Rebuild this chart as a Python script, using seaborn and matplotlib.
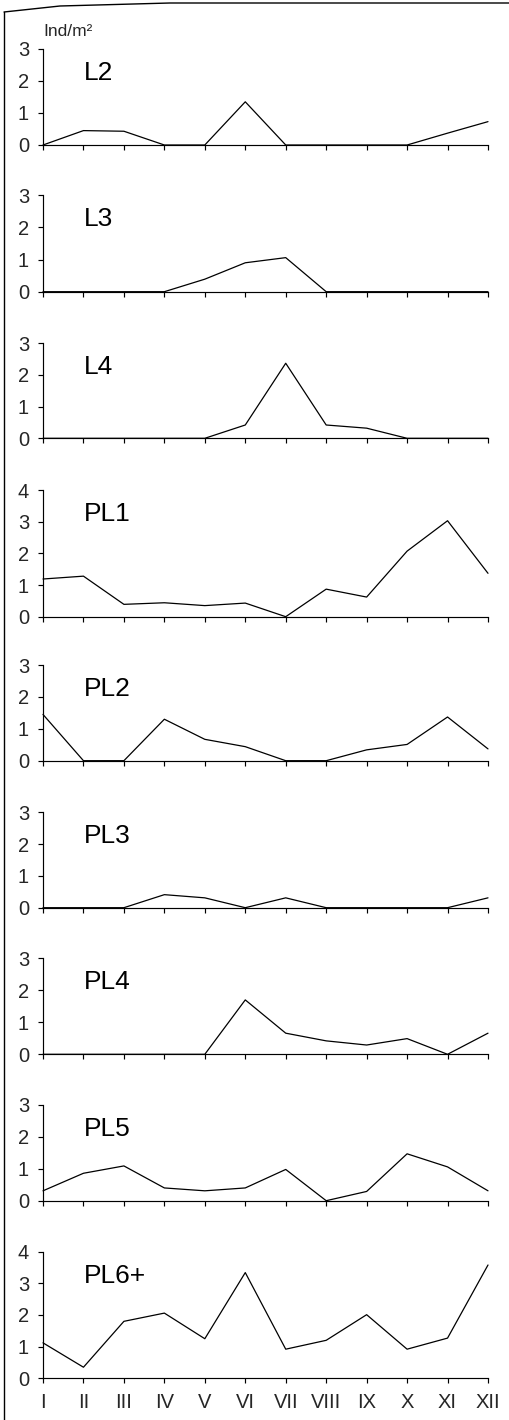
import numpy as np
import pandas as pd
import matplotlib
matplotlib.use("Agg")
import matplotlib.pyplot as plt
from matplotlib.lines import Line2D
import seaborn as sns

months = ["I", "II", "III", "IV", "V", "VI", "VII", "VIII", "IX", "X", "XI", "XII"]

stages = ["L2", "L3", "L4", "PL1", "PL2", "PL3", "PL4", "PL5", "PL6+"]
y_max = [3, 3, 3, 4, 3, 3, 3, 3, 4]

L2 = [0.0, 0.45, 0.43, 0.0, 0.0, 1.35, 0.0, 0.0, 0.0, 0.0, 0.37, 0.73]
L3 = [0.0, 0.0, 0.0, 0.0, 0.39, 0.90, 1.06, 0.0, 0.0, 0.0, 0.0, 0.0]
L4 = [0.0, 0.0, 0.0, 0.0, 0.0, 0.42, 2.37, 0.42, 0.32, 0.0, 0.0, 0.0]
PL1 = [1.19, 1.28, 0.39, 0.44, 0.35, 0.43, 0.0, 0.87, 0.62, 2.07, 3.03, 1.37]
PL2 = [1.45, 0.0, 0.0, 1.30, 0.67, 0.44, 0.0, 0.0, 0.34, 0.51, 1.37, 0.37]
PL3 = [0.0, 0.0, 0.0, 0.41, 0.31, 0.0, 0.31, 0.0, 0.0, 0.0, 0.0, 0.31]
PL4 = [0.0, 0.0, 0.0, 0.0, 0.0, 1.70, 0.66, 0.42, 0.29, 0.49, 0.0, 0.66]
PL5 = [0.31, 0.86, 1.09, 0.40, 0.31, 0.40, 0.98, 0.0, 0.29, 1.47, 1.06, 0.31]
PL6 = [1.12, 0.35, 1.80, 2.06, 1.25, 3.34, 0.92, 1.20, 2.01, 0.92, 1.27, 3.58]

series = [L2, L3, L4, PL1, PL2, PL3, PL4, PL5, PL6]

sns.set_theme(style="ticks")
plt.rcParams["font.family"] = ["Liberation Sans", "DejaVu Sans"]

W, H = 510, 1420
fig = plt.figure(figsize=(W / 100, H / 100), dpi=100)
fig.patch.set_facecolor("white")

# panel extents in pixels (top, bottom)
boxes = [(49, 145), (195.3, 291.7), (343.3, 438.3), (490, 616.7), (665, 760.7),
         (812.3, 907.7), (958.3, 1054.3), (1105, 1200.7), (1251.7, 1378.3)]
left_px, right_px = 43, 488

for i, (name, vals, ymax, (top, bot)) in enumerate(zip(stages, series, y_max, boxes)):
    ax = fig.add_axes([left_px / W, 1 - bot / H, (right_px - left_px) / W, (bot - top) / H])
    df = pd.DataFrame({"month": np.arange(len(months)), "density": vals})
    sns.lineplot(data=df, x="month", y="density", ax=ax, color="black",
                 linewidth=0.9, clip_on=False)
    ax.set_xlim(0, len(months) - 1)
    ax.set_ylim(0, ymax)
    ax.set_facecolor("none")
    for s in ["top", "right"]:
        ax.spines[s].set_visible(False)
    for s in ["left", "bottom"]:
        ax.spines[s].set_linewidth(0.85)
        ax.spines[s].set_color("black")
    ax.set_yticks(range(0, ymax + 1))
    ax.set_xticks(np.arange(len(months)))
    ax.tick_params(axis="both", direction="out", length=3.5, width=0.85, color="black")
    ax.tick_params(axis="y", labelsize=14.5, pad=6.5)
    if i == len(stages) - 1:
        ax.set_xticklabels(months)
        ax.tick_params(axis="x", labelsize=14.5, pad=7)
    else:
        ax.set_xticklabels([])
    ax.set_xlabel("")
    ax.set_ylabel("")
    ax.annotate(name, xy=(1, 1), xycoords=("data", "axes fraction"),
                xytext=(0, -24), textcoords="offset pixels",
                ha="left", va="center", fontsize=19, color="black")

fig.text(left_px / W, 1 - 36 / H, "Ind/m²", fontsize=12.5, ha="left", va="baseline")

# outer frame edges
fig.add_artist(Line2D([4 / W, 4 / W], [1 - 12 / H, 0], transform=fig.transFigure,
                      color="black", linewidth=1.0))
fig.add_artist(Line2D([4 / W, 60 / W, 170 / W, 1.0],
                      [1 - 12 / H, 1 - 6 / H, 1 - 3 / H, 1 - 3 / H],
                      transform=fig.transFigure, color="black", linewidth=1.0))

fig.savefig("out.png", dpi=100)
